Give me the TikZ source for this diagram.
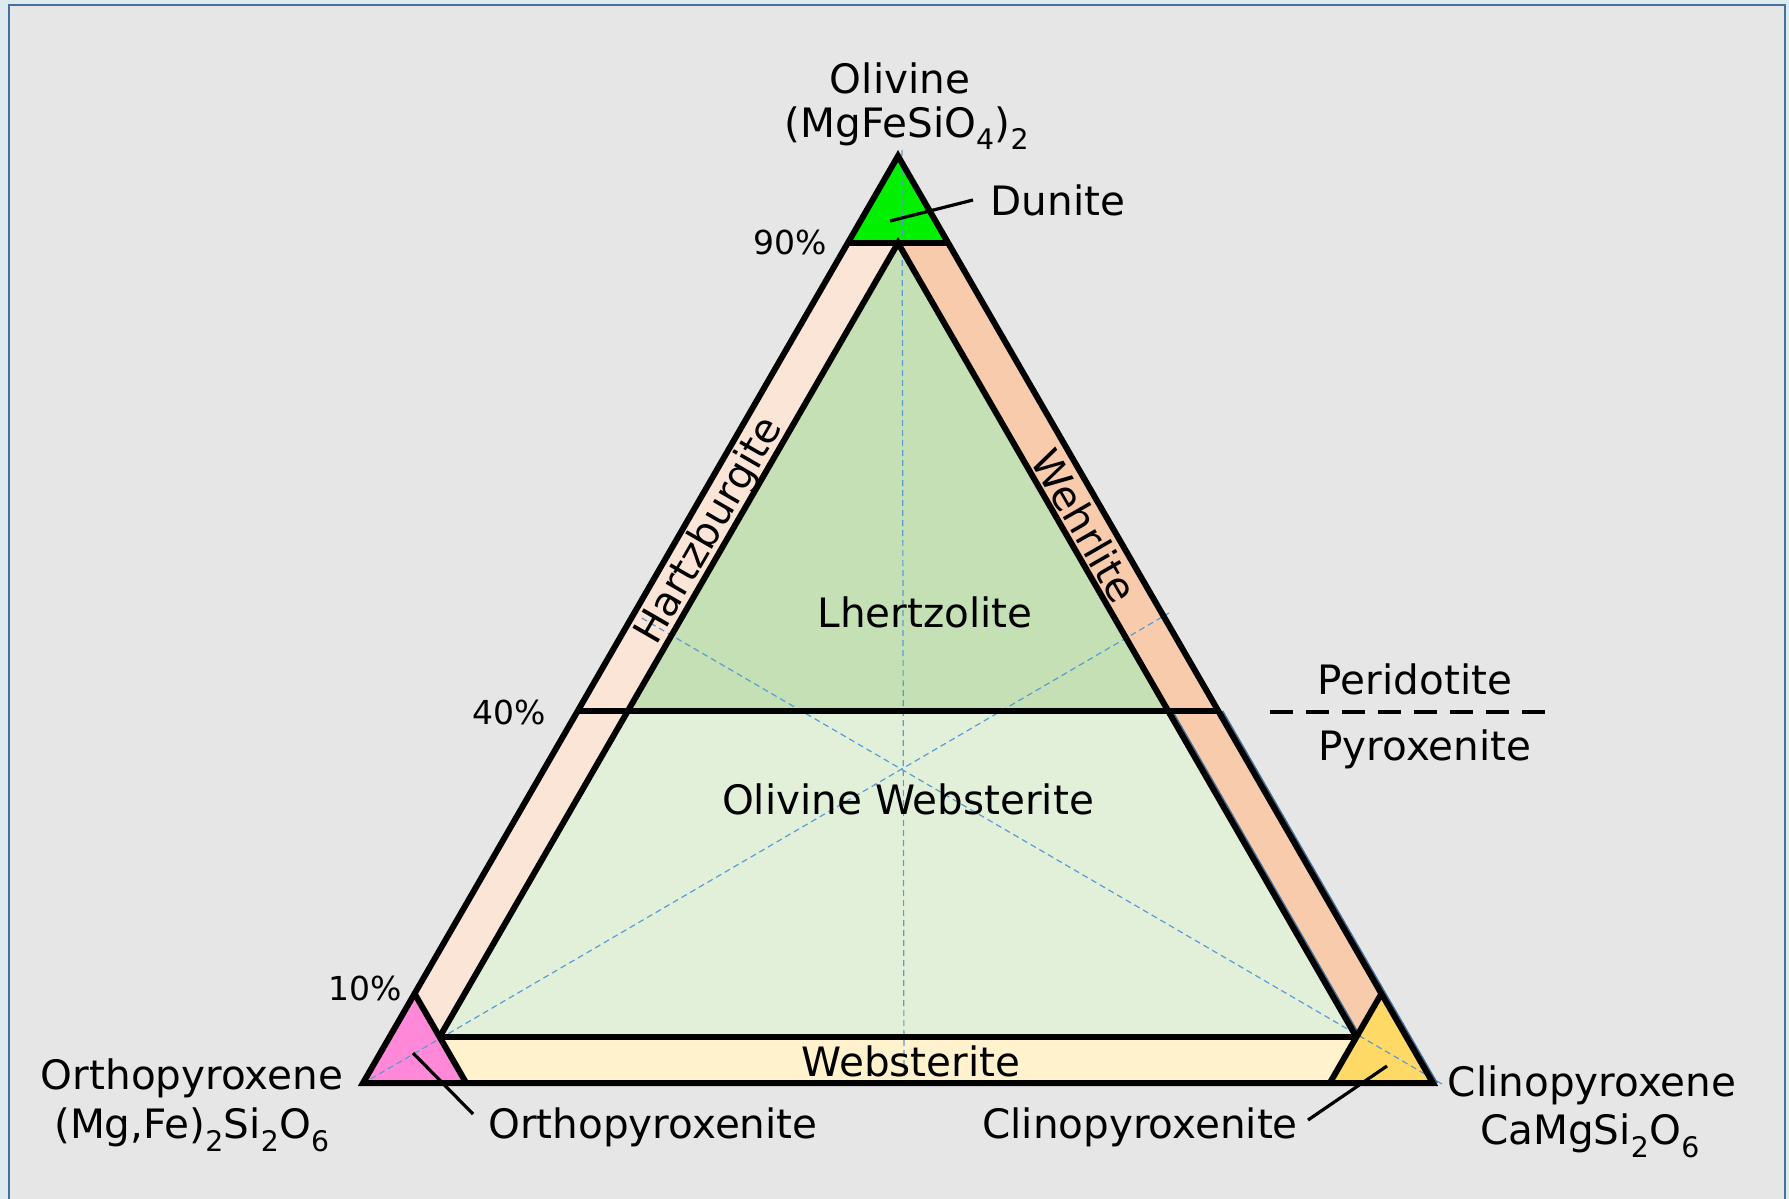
\documentclass[tikz,border=0pt]{standalone}
\usepackage{fontspec}
\setmainfont{DejaVu Sans}
\definecolor{outbg}{HTML}{DDEAEE}
\definecolor{panel}{HTML}{E6E6E6}
\definecolor{frameblue}{HTML}{41719C}
\definecolor{dunite}{HTML}{00F000}
\definecolor{hartz}{HTML}{FBE5D6}
\definecolor{wehr}{HTML}{F8CBAD}
\definecolor{lherz}{HTML}{C5E0B4}
\definecolor{olweb}{HTML}{E2F0D9}
\definecolor{webst}{HTML}{FFF2CC}
\definecolor{opx}{HTML}{FF88D9}
\definecolor{cpx}{HTML}{FFD966}
\definecolor{median}{HTML}{5B9BD5}
\begin{document}
\begin{tikzpicture}[x=1pt,y=-1pt,
  lab/.style={font=\fontsize{40.5}{46}\selectfont, inner sep=0pt},
  pct/.style={font=\fontsize{33}{38}\selectfont, inner sep=0pt},
  edge/.style={line width=6pt, black},
  leader/.style={line width=3.2pt, black},
  med/.style={median, line width=1.2pt, dash pattern=on 6pt off 4pt}]
\useasboundingbox (0,0) rectangle (1789,1199);
\fill[outbg] (0,0) rectangle (1789,1199);
\fill[panel] (9,5) rectangle (1785,1199);
\draw[frameblue, line width=2.5pt] (9,1199) -- (9,5) -- (1785,5) -- (1785,1199);

% key points
\coordinate (A) at (898,156);
\coordinate (L) at (363,1083);
\coordinate (R) at (1433,1083);
\coordinate (d1) at (847.8,243);
\coordinate (d2) at (948.2,243);
\coordinate (I) at (898,243);
\coordinate (IL) at (439.6,1037);
\coordinate (IR) at (1356.4,1037);
\coordinate (fL) at (577.6,711);
\coordinate (fR) at (1218.4,711);
\coordinate (iL) at (627.8,711);
\coordinate (iR) at (1168.2,711);
\coordinate (Pt) at (414.5,993.5);
\coordinate (Pb) at (466.2,1083);
\coordinate (Yt) at (1381.5,993.5);
\coordinate (Yb) at (1329.8,1083);

% fills
\fill[dunite] (A) -- (d2) -- (d1) -- cycle;
\fill[hartz] (d1) -- (I) -- (IL) -- (Pt) -- cycle;
\fill[wehr] (d2) -- (I) -- (IR) -- (Yt) -- cycle;
\fill[lherz] (I) -- (iR) -- (iL) -- cycle;
\fill[olweb] (iL) -- (iR) -- (IR) -- (IL) -- cycle;
\fill[webst] (IL) -- (IR) -- (Yb) -- (Pb) -- cycle;
\fill[opx] (L) -- (Pt) -- (Pb) -- cycle;
\fill[cpx] (R) -- (Yt) -- (Yb) -- cycle;

% medians
\coordinate (mT1) at (902,150);
\coordinate (mT2) at (904,1083);
\coordinate (mL1) at (362,1084);
\coordinate (mL2) at (1169,613);
\coordinate (mR1) at (1442,1084);
\coordinate (mR2) at (640,617);
\draw[med] (mT1) -- (mT2);
\draw[med] (mL1) -- (mL2);
\draw[med] (mR1) -- (mR2);

% thin blue shadow lines on right edges
\draw[frameblue, line width=1.5pt] ([xshift=4.2pt]iR) -- ([xshift=4.2pt]IR);
\draw[frameblue, line width=1.5pt] ([xshift=4.2pt]fR) -- ([xshift=4.2pt]R);

% black boundaries
\draw[edge] (A) -- (R) -- (L) -- cycle;
\draw[edge] (d1) -- (d2);
\draw[edge] (IL) -- (I) -- (IR);
\draw[edge] (fL) -- (fR);
\draw[edge] (IL) -- (IR);
\draw[edge] (Pt) -- (Pb);
\draw[edge] (Yt) -- (Yb);

% labels
\node[lab] (olv) at (900,78) {Olivine};
\node[lab] (olvf) at (907,128) {(MgFeSiO\textsubscript{4})\textsubscript{2}};
\node[lab] (dun) at (1058,200) {Dunite};
\coordinate (dunpt) at (890,221);
\coordinate (dunend) at (973,200);
\draw[leader] (dunpt) -- (dunend);
\node[pct] (p90) at (790,242) {90\%};
\node[pct] (p40) at (509,712) {40\%};
\node[pct] (p10) at (365,988) {10\%};
\node[lab, rotate=60] (hz) at (710,531) {Hartzburgite};
\node[lab, rotate=-60] (wh) at (1085,526) {Wehrlite};
\node[lab] (lz) at (925,612) {Lhertzolite};
\node[lab] (ow) at (908,799) {Olivine Websterite};
\node[lab] (ws) at (911,1061) {Websterite};
\node[lab] (opxn) at (192,1078) {Orthopyroxene};
\node[lab] (opxf) at (192,1130) {(Mg,Fe)\textsubscript{2}Si\textsubscript{2}O\textsubscript{6}};
\node[lab] (opxt) at (653,1127) {Orthopyroxenite};
\coordinate (opxpt) at (413,1053);
\coordinate (opxend) at (473,1114);
\draw[leader] (opxpt) -- (opxend);
\node[lab] (cpxt) at (1140,1127) {Clinopyroxenite};
\coordinate (cpxpt) at (1387,1066);
\coordinate (cpxend) at (1308,1120);
\draw[leader] (cpxpt) -- (cpxend);
\node[lab] (cpxn) at (1592,1085) {Clinopyroxene};
\node[lab] (cpxf) at (1590,1136) {CaMgSi\textsubscript{2}O\textsubscript{6}};
\node[lab] (per) at (1415,679) {Peridotite};
\node[lab] (pyx) at (1425,749) {Pyroxenite};
\coordinate (dl1) at (1270,712);
\coordinate (dl2) at (1546,712);
\draw[line width=4pt, dash pattern=on 23pt off 13pt] (dl1) -- (dl2);
\end{tikzpicture}
\end{document}
